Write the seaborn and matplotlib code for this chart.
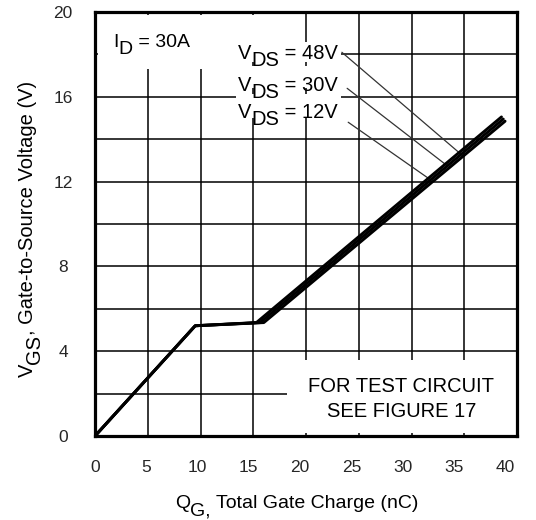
import numpy as np
import pandas as pd
import matplotlib
matplotlib.use("Agg")
import matplotlib.pyplot as plt
from matplotlib.patches import Rectangle
import seaborn as sns

# Gate charge curves, one per drain-source voltage
vds_labels = ["12V", "30V", "48V"]
q_12v = [0.0, 9.5, 15.3, 38.53]
q_30v = [0.0, 9.5, 15.65, 38.7]
q_48v = [0.0, 9.5, 16.0, 38.87]
vgs_12v = [0.0, 5.2, 5.35, 15.05]
vgs_30v = [0.0, 5.2, 5.35, 14.95]
vgs_48v = [0.0, 5.2, 5.35, 14.85]

# Where each VDS leader line touches its curve (nC)
leader_q = {"48V": 34.9, "30V": 33.4, "12V": 31.6}

x_ticks = [0, 5, 10, 15, 20, 25, 30, 35, 40]
x_tick_labels = ["0", "5", "10", "15", "20", "25", "30", "35", "40"]
y_ticks = [0, 4, 8, 12, 16, 20]
y_tick_labels = ["0", "4", "8", "12", "16", "20"]
y_minor = [2, 6, 10, 14, 18]

sns.set_theme(style="white")
plt.rcParams["font.family"] = ["Liberation Sans", "DejaVu Sans"]
plt.rcParams["text.color"] = "black"

curves = {"12V": (q_12v, vgs_12v), "30V": (q_30v, vgs_30v), "48V": (q_48v, vgs_48v)}
df = pd.concat(
    [pd.DataFrame({"Q": q, "VGS": v, "VDS": name}) for name, (q, v) in curves.items()],
    ignore_index=True,
)

fig = plt.figure(figsize=(5.36, 5.20), dpi=100)
ax = fig.add_axes([95 / 536, 1 - 436 / 520, 422 / 536, 424 / 520])

sns.lineplot(
    data=df, x="Q", y="VGS", hue="VDS", palette=["black"] * 3,
    linewidth=2.1, legend=False, sort=False, estimator=None, ax=ax,
    solid_capstyle="round", zorder=3,
)
ax.set_xlabel("")
ax.set_ylabel("")
ax.set_xlim(0, 40)
ax.set_ylim(0, 20)

# grid
ax.set_xticks(x_ticks)
ax.set_yticks(y_ticks)
ax.set_yticklabels(y_tick_labels)
ax.set_yticks(y_minor, minor=True)
ax.grid(which="both", color="black", linewidth=1.1)
ax.tick_params(which="both", length=0)
ax.tick_params(axis="x", labelbottom=False)
ax.tick_params(axis="y", pad=23, labelsize=12.5)
for lbl in ax.get_yticklabels():
    lbl.set_horizontalalignment("center")
for sp in ax.spines.values():
    sp.set_linewidth(2.3)
    sp.set_color("black")

# charge axis labels sit on a slightly compressed scale
sec = ax.secondary_xaxis(
    "bottom", functions=(lambda q: q / 0.972, lambda s: s * 0.972)
)
sec.set_xticks(x_ticks)
sec.set_xticklabels(x_tick_labels)
sec.tick_params(length=0, pad=17, labelsize=12.5)
sec.spines["bottom"].set_visible(False)

# white backgrounds behind the annotations
white = dict(facecolor="white", edgecolor="none", zorder=1.8)
for (x0, y0, w, h) in [
    (0.3, 18.6, 15.7, 1.25),
    (0.3, 17.3, 13.2, 1.35),
    (13.4, 17.64, 9.9, 0.94),
    (13.4, 16.42, 9.9, 1.03),
    (13.4, 15.0, 9.9, 1.13),
    (18.2, 0.15, 21.7, 3.45),
]:
    ax.add_patch(Rectangle((x0, y0), w, h, **white))


def chain_text(ax, x, y, parts, size, transform, shift=5.0, rotation=0):
    """Draw text pieces one after another, subscripts lowered at full size."""
    t = ax.text(x, y, parts[0][0], fontsize=size, transform=transform,
                ha="left", va="baseline", rotation=rotation,
                rotation_mode="anchor", zorder=5, clip_on=False)
    prev, prev_sub = t, parts[0][1]
    for s, sub in parts[1:]:
        d = (-shift if sub else 0.0) - (-shift if prev_sub else 0.0)
        if rotation == 90:
            xy, off = (1, 1), (-d, 0)
        else:
            xy, off = (1, 0), (0, d)
        prev = ax.annotate(s, xy=xy, xycoords=prev, xytext=off,
                           textcoords="offset points", fontsize=size,
                           ha="left", va="bottom", rotation=rotation,
                           rotation_mode="anchor", zorder=5,
                           annotation_clip=False)
        prev_sub = sub
    return prev


chain_text(ax, 1.71, 18.35, [("I", False), ("D", True), (" = 30A", False)],
           14, ax.transData)

label_y = {"48V": 17.78, "30V": 16.27, "12V": 15.0}
leader_start = {"48V": (23.4, 18.1), "30V": (23.9, 16.4), "12V": (24.0, 14.8)}
for name in ["48V", "30V", "12V"]:
    chain_text(ax, 13.55, label_y[name],
               [("V", False), ("DS", True), (" = " + name, False)],
               14.5, ax.transData)
    qe = leader_q[name]
    q, v = curves[name]
    ve = np.interp(qe, q, v)
    ax.annotate("", xy=(qe, ve), xytext=leader_start[name],
                arrowprops=dict(arrowstyle="-", color="#333333", lw=0.9,
                                shrinkA=0, shrinkB=0), zorder=2.5)

ax.text(29.0, 2.08, "FOR TEST CIRCUIT", ha="center", va="baseline",
        fontsize=14.5, zorder=5)
ax.text(29.1, 0.9, "SEE FIGURE 17", ha="center", va="baseline",
        fontsize=14.5, zorder=5)

# axis titles
chain_text(ax, 0.19, -0.170,
           [("Q", False), ("G,", True), (" Total Gate Charge (nC)", False)],
           14, ax.transAxes)
chain_text(ax, -0.147, 0.139,
           [("V", False), ("GS", True), (", Gate-to-Source Voltage (V)", False)],
           14.5, ax.transAxes, rotation=90)

fig.savefig("out.png", dpi=100)
